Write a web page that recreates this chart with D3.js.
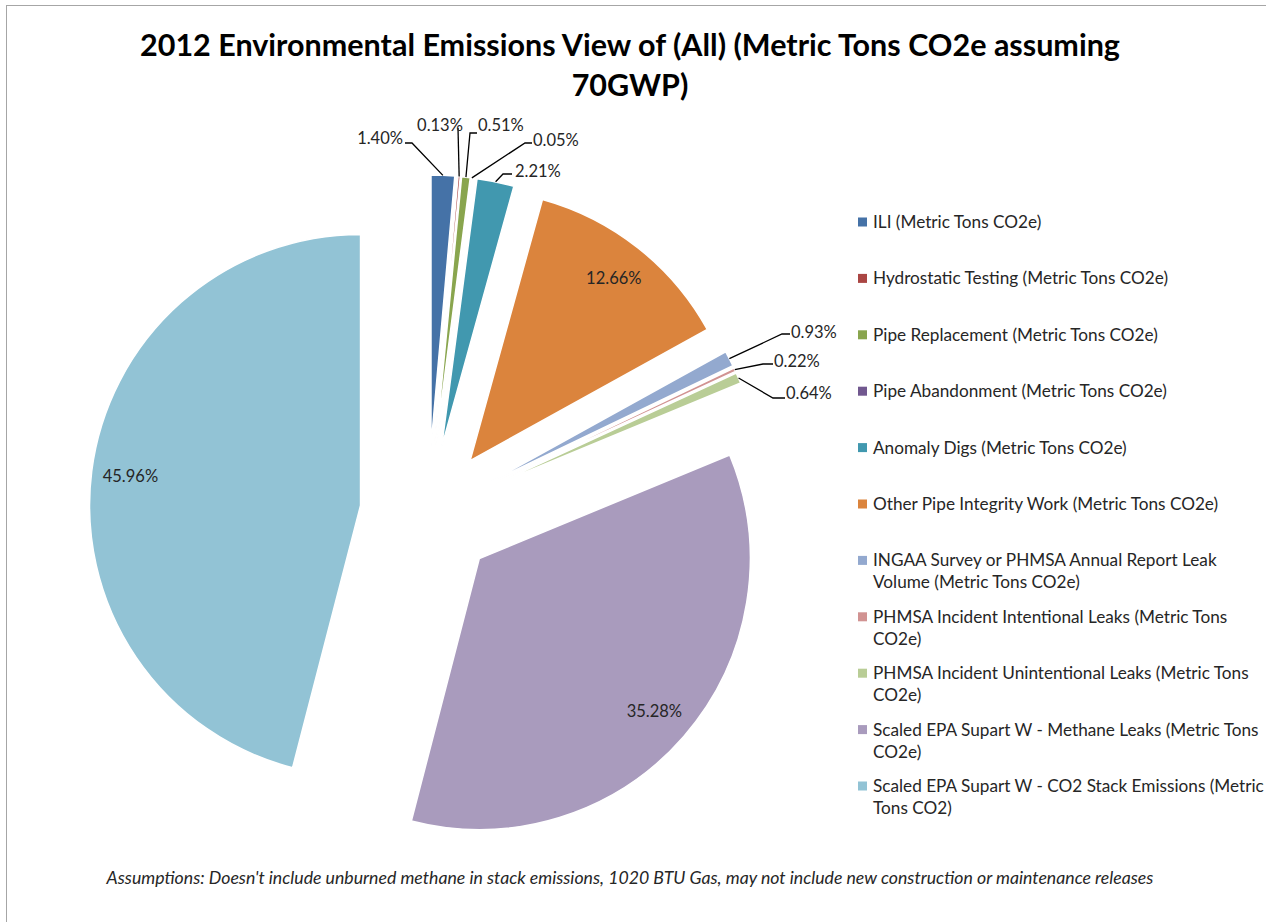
<!DOCTYPE html>
<html>
<head>
<meta charset="utf-8">
<script src="https://cdn.jsdelivr.net/npm/d3@7"></script>
<style>
  body { margin: 0; background: #fff; }
  svg { display: block; font-family: Lato, "Noto Sans", sans-serif; }
</style>
</head>
<body>
<div id="chart"></div>
<script>
// Series names, in pie order (clockwise from 12 o'clock)
const categories = [
  "ILI (Metric Tons CO2e)",
  "Hydrostatic Testing (Metric Tons CO2e)",
  "Pipe Replacement (Metric Tons CO2e)",
  "Pipe Abandonment (Metric Tons CO2e)",
  "Anomaly Digs (Metric Tons CO2e)",
  "Other Pipe Integrity Work (Metric Tons CO2e)",
  "INGAA Survey or PHMSA Annual Report Leak Volume (Metric Tons CO2e)",
  "PHMSA Incident Intentional Leaks (Metric Tons CO2e)",
  "PHMSA Incident Unintentional Leaks (Metric Tons CO2e)",
  "Scaled EPA Supart W - Methane Leaks (Metric Tons CO2e)",
  "Scaled EPA Supart W - CO2 Stack Emissions (Metric Tons CO2)"
];

// Share of total, percent
const shares = [1.40, 0.13, 0.51, 0.05, 2.21, 12.66, 0.93, 0.22, 0.64, 35.28, 45.96];

const sliceColors = ["#4572a7", "#aa4643", "#89a54e", "#71588f", "#4198af", "#db843d",
                     "#93a9cf", "#d19392", "#b9cd96", "#a99bbd", "#92c3d5"];

const titleLines = ["2012 Environmental Emissions View of (All) (Metric Tons CO2e assuming", "70GWP)"];
const footnote = "Assumptions: Doesn't include unburned methane in stack emissions, 1020 BTU Gas, may not include new construction or maintenance releases";

// Label placement: null = inside the slice, otherwise outside with a leader line
// [textX, textY, anchor, elbowX, elbowY, endX, endY]
const labelLayout = [
  [403, 144, "end",   412, 143, 405, 143],
  [440, 131, "middle", 458, 128, 458, 128],
  [478, 131, "start", 470, 133, 477, 133],
  [533, 146, "start", 525, 143, 532, 143],
  [515, 177, "start", 503, 174, 512, 174],
  null,
  [791, 338, "start", 782, 334, 790, 334],
  [774, 367, "start", 763, 364, 773, 364],
  [786, 399, "start", 773, 398, 785, 398],
  null,
  null
];

const width = 1266, height = 922;
const cx = 428, cy = 514, radius = 271, explode = 68;

const svg = d3.select("#chart")
  .append("svg")
  .attr("width", width)
  .attr("height", height);

// Chart area border (only top/left edges are in frame)
svg.append("rect")
  .attr("x", 6.5).attr("y", 5.5)
  .attr("width", width + 20).attr("height", height + 20)
  .attr("fill", "none")
  .attr("stroke", "#a6a6a6")
  .attr("stroke-width", 1);

// Title
svg.append("g")
  .selectAll("text")
  .data(titleLines)
  .join("text")
    .attr("x", 630)
    .attr("y", (d, i) => 56 + i * 40)
    .attr("text-anchor", "middle")
    .style("font-size", "30.5px")
    .style("font-weight", "bold")
    .style("fill", "#000")
    .text(d => d);

const data = categories.map((c, i) => ({name: c, value: shares[i], color: sliceColors[i], layout: labelLayout[i]}));

const pie = d3.pie()
  .sort(null)
  .value(d => d.value)
  .startAngle(0)
  .endAngle(2 * Math.PI);

const arc = d3.arc().innerRadius(0).outerRadius(radius);

const arcs = pie(data);
const mid = d => (d.startAngle + d.endAngle) / 2;
const offset = (d, r) => [Math.sin(mid(d)) * r, -Math.cos(mid(d)) * r];

const pieG = svg.append("g").attr("transform", `translate(${cx},${cy})`);

pieG.selectAll("path")
  .data(arcs)
  .join("path")
    .attr("transform", d => `translate(${offset(d, explode)})`)
    .attr("d", arc)
    .attr("fill", d => d.data.color)
    .attr("stroke", "#fff")
    .attr("stroke-width", 1.5)
    .attr("stroke-linejoin", "round");

// Inside labels
pieG.selectAll("text.inside")
  .data(arcs.filter(d => !d.data.layout))
  .join("text")
    .attr("class", "inside")
    .attr("x", d => offset(d, explode + 232)[0])
    .attr("y", d => offset(d, explode + 232)[1])
    .attr("dy", "0.35em")
    .attr("text-anchor", "middle")
    .style("font-size", "16.5px")
    .style("fill", "#262626")
    .text(d => d3.format(".2f")(d.data.value) + "%");

// Outside labels with leader lines
const outside = arcs.filter(d => d.data.layout);

svg.append("g")
  .selectAll("polyline")
  .data(outside)
  .join("polyline")
    .attr("points", d => {
      const p = offset(d, explode + radius);
      const L = d.data.layout;
      return [[cx + p[0], cy + p[1]], [L[3], L[4]], [L[5], L[6]]].join(" ");
    })
    .attr("fill", "none")
    .attr("stroke", "#000")
    .attr("stroke-width", 1.3);

svg.append("g")
  .selectAll("text")
  .data(outside)
  .join("text")
    .attr("x", d => d.data.layout[0])
    .attr("y", d => d.data.layout[1])
    .attr("text-anchor", d => d.data.layout[2])
    .style("font-size", "16.5px")
    .style("fill", "#262626")
    .text(d => d3.format(".2f")(d.data.value) + "%");

// Legend
const legend = svg.append("g").attr("transform", "translate(858,222)");
const legendFont = 17.2, maxTextWidth = 397;

const items = legend.selectAll("g")
  .data(data)
  .join("g")
    .attr("transform", (d, i) => `translate(0,${i * 56.4})`);

items.append("rect")
  .attr("x", 0).attr("y", -4.5)
  .attr("width", 9).attr("height", 9)
  .attr("fill", d => d.color);

items.each(function(d) {
  const g = d3.select(this);
  const text = g.append("text")
    .attr("x", 15)
    .attr("y", 0)
    .attr("dy", "0.35em")
    .style("font-size", legendFont + "px")
    .style("fill", "#262626");
  // wrap words to the legend width
  const words = d.name.split(" ");
  let line = [];
  let tspan = text.append("tspan").attr("x", 15);
  words.forEach(w => {
    line.push(w);
    tspan.text(line.join(" "));
    if (tspan.node().getComputedTextLength() > maxTextWidth && line.length > 1) {
      line.pop();
      tspan.text(line.join(" "));
      line = [w];
      tspan = text.append("tspan").attr("x", 15).attr("dy", 22).text(w);
    }
  });
});

// Footnote
svg.append("text")
  .attr("x", 630)
  .attr("y", 884)
  .attr("text-anchor", "middle")
  .style("font-size", "17.7px")
  .style("font-style", "italic")
  .style("fill", "#262626")
  .text(footnote);
</script>
</body>
</html>
